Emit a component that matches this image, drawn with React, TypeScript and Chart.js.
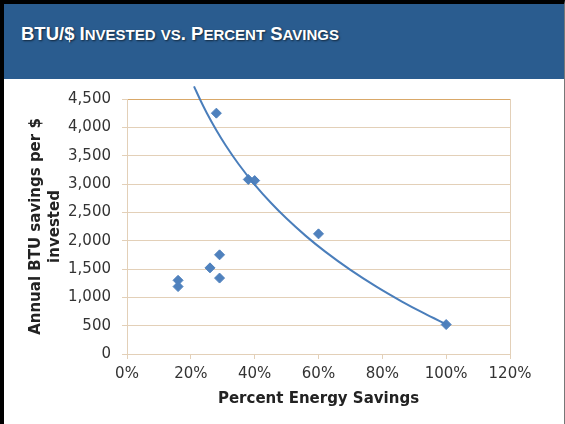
import { useEffect, useRef } from "react";
import { Chart, registerables } from "chart.js";
Chart.register(...registerables);

// Frontier points (carry the logarithmic trendline)
const SERIES_A_X = [0.28, 0.38, 0.4, 0.6, 1.0];
const SERIES_A_Y = [4250, 3080, 3060, 2120, 520];
// Remaining points
const SERIES_B_X = [0.16, 0.16, 0.26, 0.29, 0.29];
const SERIES_B_Y = [1300, 1190, 1520, 1750, 1340];

// Logarithmic trendline: y = a + b*ln(x)
const TREND_A = 525;
const TREND_B = -2690;
const TREND_X = [0.21, 0.23, 0.25, 0.28, 0.31, 0.35, 0.4, 0.45, 0.5, 0.56, 0.62, 0.7, 0.78, 0.86, 0.93, 1.0];

const X_MIN = 0;
const X_MAX = 1.2;
const X_STEP = 0.2;
const Y_MIN = 0;
const Y_MAX = 4500;
const Y_STEP = 500;

const TITLE = "BTU/$ Invested vs. Percent Savings";
const Y_TITLE = ["Annual BTU savings per $", "invested"];
const X_TITLE = "Percent Energy Savings";

const FONT = "'DejaVu Sans', Verdana, sans-serif";
const GRID = "#E3D0B8";
const GRID_TOP = "#D9A869";
const MARK = "#4F81BD";

function smallCaps(text: string) {
  const parts: { t: string; small: boolean }[] = [];
  for (const ch of text) {
    const small = ch !== ch.toUpperCase();
    const t = small ? ch.toUpperCase() : ch;
    const last = parts[parts.length - 1];
    if (last && last.small === small) last.t += t;
    else parts.push({ t, small });
  }
  return parts.map((p, i) => (
    <span key={i} style={{ fontSize: p.small ? 15 : 18.5 }}>
      {p.t}
    </span>
  ));
}

export default function App() {
  const ref = useRef<HTMLCanvasElement>(null);
  useEffect(() => {
    const a = SERIES_A_X.map((x, i) => ({ x, y: SERIES_A_Y[i] }));
    const b = SERIES_B_X.map((x, i) => ({ x, y: SERIES_B_Y[i] }));
    const trend = TREND_X.map((x) => ({ x, y: TREND_A + TREND_B * Math.log(x) }));
    const chart = new Chart(ref.current!, {
      type: "scatter",
      data: {
        datasets: [
          {
            label: "trend",
            data: trend,
            showLine: true,
            pointRadius: 0,
            borderColor: "#4A7EBB",
            borderWidth: 2,
            cubicInterpolationMode: "monotone",
            clip: false,
          } as any,
          {
            label: "A",
            data: a,
            pointStyle: "rectRot",
            pointRadius: 5,
            backgroundColor: MARK,
            borderColor: MARK,
            borderWidth: 1,
          },
          {
            label: "B",
            data: b,
            pointStyle: "rectRot",
            pointRadius: 5,
            backgroundColor: MARK,
            borderColor: MARK,
            borderWidth: 1,
          },
        ],
      },
      options: {
        responsive: false,
        animation: false,
        layout: { padding: { top: 19, right: 54, left: 0, bottom: 0 } },
        plugins: { legend: { display: false }, tooltip: { enabled: false } },
        scales: {
          x: {
            type: "linear",
            min: X_MIN,
            max: X_MAX,
            ticks: {
              stepSize: X_STEP,
              callback: (v: any) => Math.round(Number(v) * 100) + "%",
              font: { family: FONT, size: 15 },
              color: "#333",
              padding: 6,
            },
            grid: {
              color: (c: any) => (c.index === 6 ? GRID : "rgba(0,0,0,0)"),
              tickColor: GRID,
              tickLength: 5,
            },
            border: { color: GRID, width: 1 },
            title: {
              display: true,
              text: X_TITLE,
              font: { family: FONT, size: 15, weight: "bold", lineHeight: 1.27 },
              color: "#222",
              padding: { top: 0, bottom: 15.5 },
            },
            afterFit: (s: any) => {
              s.height = 70;
            },
          },
          y: {
            type: "linear",
            min: Y_MIN,
            max: Y_MAX,
            ticks: {
              stepSize: Y_STEP,
              font: { family: FONT, size: 15 },
              color: "#333",
              padding: 11,
            },
            grid: {
              color: (c: any) => (c.tick && c.tick.value === Y_MAX ? GRID_TOP : GRID),
              tickColor: GRID,
              tickLength: 5,
            },
            border: { color: GRID, width: 1 },
            title: {
              display: true,
              text: Y_TITLE,
              font: { family: FONT, size: 15, weight: "bold", lineHeight: 1.27 },
              color: "#222",
              padding: { top: 23, bottom: 0 },
            },
            afterFit: (s: any) => {
              s.width = 123;
            },
          },
        },
      },
    });
    return () => chart.destroy();
  }, []);

  return (
    <div
      style={{
        position: "absolute",
        left: 0,
        top: 0,
        width: 565,
        height: 424,
        boxSizing: "border-box",
        borderLeft: "4px solid #000",
        borderTop: "4px solid #000",
        borderRight: "1px solid #777",
        background: "#fff",
        overflow: "hidden",
      }}
    >
      <div style={{ position: "relative", height: 75, background: "#2A5C8F" }}>
        <div
          style={{
            position: "absolute",
            left: 17,
            top: 20,
            lineHeight: "19px",
            fontFamily: "'Liberation Sans', Arial, sans-serif",
            fontWeight: "bold",
            color: "#fff",
            textShadow: "1px 1px 2px rgba(0,0,0,0.6)",
            whiteSpace: "nowrap",
          }}
        >
          {smallCaps(TITLE)}
        </div>
      </div>
      <canvas ref={ref} width={560} height={345} style={{ display: "block", width: 560, height: 345 }} />
    </div>
  );
}
